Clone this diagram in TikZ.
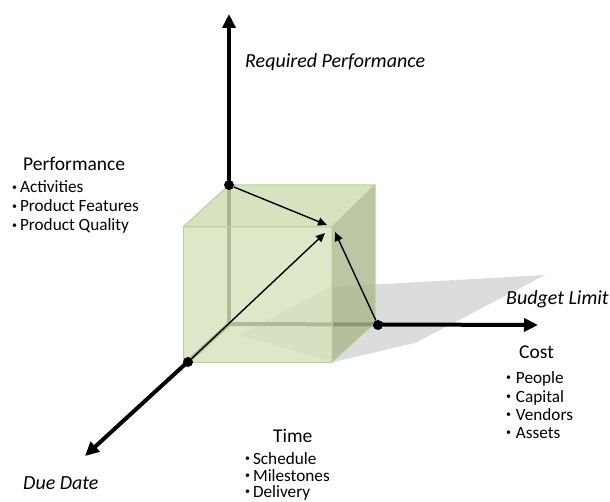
\documentclass[tikz,border=0pt]{standalone}
\usepackage{fontspec}
\setmainfont{Carlito}
\usetikzlibrary{arrows.meta}
\definecolor{cubefront}{RGB}{214,227,188}
\definecolor{cubetop}{RGB}{206,221,178}
\definecolor{cuberight}{RGB}{172,186,142}
\definecolor{cubeedge}{RGB}{188,205,158}
\definecolor{shadowgray}{RGB}{220,220,220}
\newcommand\mybul{\raisebox{0.35ex}{\fontsize{10}{10}\selectfont•}}
\tikzset{
  axisarrow/.style={line width=4pt, -{Triangle[length=14pt,width=13pt]}},
  vec/.style={line width=1.4pt, -{Triangle[length=9pt,width=8pt]}},
  dotnode/.style={circle, fill=black, inner sep=0pt, minimum size=10pt},
  head/.style={font=\fontsize{19.5}{22}\selectfont, anchor=base west, inner sep=0pt},
  item/.style={font=\fontsize{17.2}{19}\selectfont, anchor=base west, inner sep=0pt},
  lim/.style={font=\fontsize{20}{22}\selectfont\itshape, anchor=base west, inner sep=0pt},
  face/.style={draw=cubeedge, line width=1pt, line join=round, fill opacity=0.82},
}
\begin{document}
\begin{tikzpicture}[x=1pt,y=-1pt]
\useasboundingbox (0,0) rectangle (610,502);
% shadow
\fill[shadowgray] (240,335) -- (330,287) -- (545,275) -- (415,343) -- (333,362) -- cycle;
% axes from hidden origin
\coordinate (O) at (229,324);
\coordinate (Ztip) at (229,14);
\coordinate (Xtip) at (538,325);
\coordinate (Ytip) at (85,456);
\draw[axisarrow] (O) -- (Ztip);
\draw[axisarrow] (O) -- (Xtip);
\draw[axisarrow] (O) -- (Ytip);
% cube faces
\path[face, fill=cubefront] (183,227) rectangle (332,362);
\path[face, fill=cubetop] (183,227) -- (229,185) -- (375,185) -- (332,227) -- cycle;
\path[face, fill=cuberight] (332,227) -- (375,185) -- (375,323) -- (332,362) -- cycle;
% dots
\node[dotnode] (P) at (229,185) {};
\node[dotnode] (C) at (378,325) {};
\node[dotnode] (T) at (188,362) {};
\coordinate (E1) at (327,225);
\coordinate (E2) at (325,233);
\coordinate (E3) at (335,232);
\draw[vec] (P) -- (E1);
\draw[vec] (T) -- (E2);
\draw[vec] (C) -- (E3);
% labels
\node[lim] (rp) at (245,68) {Required Performance};
\node[lim] (bl) at (506,305) {Budget Limit};
\node[lim] (dd) at (23,489) {Due Date};
% performance
\node[head] (perf) at (23,171) {Performance};
\node[item] (p1) at (12,193) {\mybul\,Activities};
\node[item] (p2) at (12,212) {\mybul\,Product Features};
\node[item] (p3) at (12,231) {\mybul\,Product Quality};
% cost
\node[head] (cost) at (519,358) {Cost};
\node[item] (c1) at (506,383) {\mybul\;People};
\node[item] (c2) at (506,402) {\mybul\;Capital};
\node[item] (c3) at (506,420) {\mybul\;Vendors};
\node[item] (c4) at (506,438) {\mybul\;Assets};
% time
\node[head] (time) at (273,442) {Time};
\node[item] (t1) at (245,464) {\mybul\,Schedule};
\node[item] (t2) at (245,481) {\mybul\,Milestones};
\node[item] (t3) at (245,497) {\mybul\,Delivery};
\end{tikzpicture}
\end{document}
